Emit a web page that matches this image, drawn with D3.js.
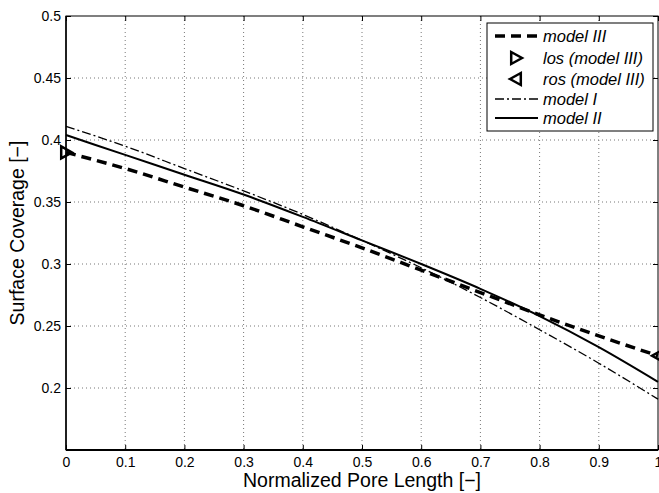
<!DOCTYPE html>
<html><head><meta charset="utf-8">
<script src="https://cdn.jsdelivr.net/npm/d3@7"></script>
<style>body{margin:0;background:#fff}svg{display:block}text{font-family:"Liberation Sans",Arial,sans-serif}</style>
</head><body>
<svg id="c" width="659" height="493"></svg>
<script>
const xValues = [0, 0.1, 0.2, 0.3, 0.4, 0.5, 0.6, 0.7, 0.8, 0.9, 1.0];
const modelIII = [0.390, 0.377, 0.362, 0.347, 0.330, 0.313, 0.295, 0.277, 0.259, 0.242, 0.226];
const modelI   = [0.411, 0.395, 0.377, 0.359, 0.340, 0.319, 0.297, 0.273, 0.247, 0.220, 0.191];
const modelII  = [0.404, 0.388, 0.372, 0.356, 0.338, 0.319, 0.300, 0.280, 0.258, 0.233, 0.205];
const losPoint = [0, 0.390];
const rosPoint = [1, 0.226];
const xTicks = [0, 0.1, 0.2, 0.3, 0.4, 0.5, 0.6, 0.7, 0.8, 0.9, 1];
const yTicks = [0.2, 0.25, 0.3, 0.35, 0.4, 0.45, 0.5];
const xTickLabels = ["0","0.1","0.2","0.3","0.4","0.5","0.6","0.7","0.8","0.9","1"];
const yTickLabels = ["0.2","0.25","0.3","0.35","0.4","0.45","0.5"];
const legendLabels = ["model III", "los (model III)", "ros (model III)", "model I", "model II"];

const svg = d3.select("#c");
const L = 66, R = 658, T = 16, B = 450;
const x = d3.scaleLinear().domain([0, 1]).range([L, R]);
const y = d3.scaleLinear().domain([0.15, 0.5]).range([B, T]);

// grid
const g = svg.append("g");
g.selectAll(".gx").data(xTicks.slice(1, -1)).enter().append("line")
  .attr("x1", d => x(d)).attr("x2", d => x(d)).attr("y1", T).attr("y2", B)
  .attr("stroke", "#777").attr("stroke-width", 1).attr("stroke-dasharray", "1,3");
g.selectAll(".gy").data(yTicks.slice(0, -1)).enter().append("line")
  .attr("y1", d => y(d)).attr("y2", d => y(d)).attr("x1", L).attr("x2", R)
  .attr("stroke", "#777").attr("stroke-width", 1).attr("stroke-dasharray", "1,3");

// axes
const xAxisB = d3.axisBottom(x).tickValues(xTicks).tickSize(-5).tickPadding(7).tickFormat((d,i)=>xTickLabels[i]);
const xAxisT = d3.axisTop(x).tickValues(xTicks).tickSize(-5).tickFormat("");
const yAxisL = d3.axisLeft(y).tickValues(yTicks).tickSize(-5).tickPadding(5).tickFormat((d,i)=>yTickLabels[i]);
const yAxisR = d3.axisRight(y).tickValues(yTicks).tickSize(-5).tickFormat("");
function style(sel){ sel.select(".domain").remove(); sel.selectAll("line").attr("stroke","#000"); sel.selectAll("text").attr("font-size",14).attr("fill","#000").attr("font-family","Liberation Sans, Arial, sans-serif"); }
svg.append("g").attr("transform",`translate(0,${B})`).call(xAxisB).call(style);
svg.append("g").attr("transform",`translate(0,${T})`).call(xAxisT).call(style);
svg.append("g").attr("transform",`translate(${L},0)`).call(yAxisL).call(style);
svg.append("g").attr("transform",`translate(${R},0)`).call(yAxisR).call(style);
svg.append("rect").attr("x",L).attr("y",T).attr("width",R-L).attr("height",B-T).attr("fill","none").attr("stroke","#000").attr("stroke-width",1);
svg.append("line").attr("x1",L).attr("x2",R).attr("y1",B).attr("y2",B).attr("stroke","#000").attr("stroke-width",2);
svg.append("line").attr("x1",L).attr("x2",L).attr("y1",T).attr("y2",B).attr("stroke","#000").attr("stroke-width",1.5);

// lines
const line = d3.line().x((d,i)=>x(xValues[i])).y(d=>y(d)).curve(d3.curveMonotoneX);
svg.append("path").attr("d", line(modelI)).attr("fill","none").attr("stroke","#000").attr("stroke-width",1.3).attr("stroke-dasharray","9,3,2,3");
svg.append("path").attr("d", line(modelII)).attr("fill","none").attr("stroke","#000").attr("stroke-width",2);
svg.append("path").attr("d", line(modelIII)).attr("fill","none").attr("stroke","#000").attr("stroke-width",3.5).attr("stroke-dasharray","10,6");

// markers
const tri = 6;
function triRight(cx, cy){ return `M${cx-tri*0.8},${cy-tri} L${cx+tri},${cy} L${cx-tri*0.8},${cy+tri} Z`; }
function triLeft(cx, cy){ return `M${cx+tri*0.8},${cy-tri} L${cx-tri},${cy} L${cx+tri*0.8},${cy+tri} Z`; }
svg.append("path").attr("d", triRight(x(losPoint[0]), y(losPoint[1]))).attr("fill","none").attr("stroke","#000").attr("stroke-width",2.5);
svg.append("path").attr("d", triLeft(x(rosPoint[0]), y(rosPoint[1]))).attr("fill","none").attr("stroke","#000").attr("stroke-width",2.5);

// legend
const lg = svg.append("g");
lg.append("rect").attr("x",487).attr("y",23).attr("width",166).attr("height",108).attr("fill","#fff").attr("stroke","#000").attr("stroke-width",1);
const rowY = [36, 58, 79, 99, 118];
legendLabels.forEach((lab,i)=>{
  const cy = rowY[i];
  if (i===0) lg.append("line").attr("x1",495).attr("x2",538).attr("y1",cy).attr("y2",cy).attr("stroke","#000").attr("stroke-width",3.5).attr("stroke-dasharray","10,6");
  if (i===1) lg.append("path").attr("d", triRight(516, cy)).attr("fill","none").attr("stroke","#000").attr("stroke-width",2.5);
  if (i===2) lg.append("path").attr("d", triLeft(516, cy)).attr("fill","none").attr("stroke","#000").attr("stroke-width",2.5);
  if (i===3) lg.append("line").attr("x1",495).attr("x2",538).attr("y1",cy).attr("y2",cy).attr("stroke","#000").attr("stroke-width",1.3).attr("stroke-dasharray","9,3,2,3");
  if (i===4) lg.append("line").attr("x1",495).attr("x2",538).attr("y1",cy).attr("y2",cy).attr("stroke","#000").attr("stroke-width",2);
  lg.append("text").attr("x",543).attr("y",cy+6).attr("font-size",16.5).attr("font-style","italic").text(lab);
});

// axis titles
svg.append("text").attr("x",(L+R)/2).attr("y",487).attr("text-anchor","middle").attr("font-size",19.5).text("Normalized Pore Length [\u2212]");
svg.append("text").attr("transform",`translate(24,${(T+B)/2}) rotate(-90)`).attr("text-anchor","middle").attr("font-size",19.5).text("Surface Coverage [\u2212]");
</script>
</body></html>
